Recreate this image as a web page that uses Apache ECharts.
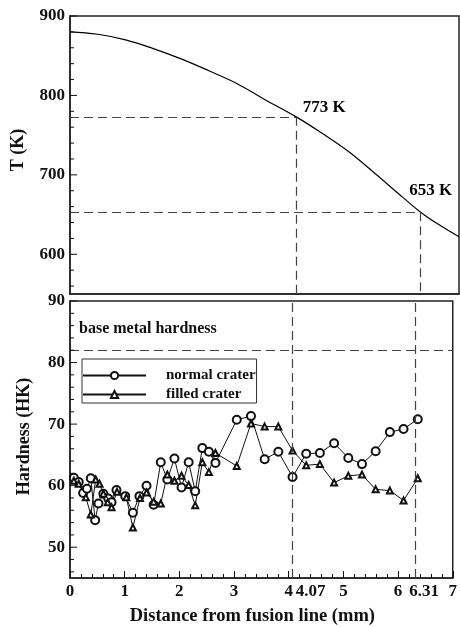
<!DOCTYPE html>
<html>
<head>
<meta charset="utf-8">
<script src="https://cdn.jsdelivr.net/npm/echarts@6/dist/echarts.min.js"></script>
<style>
  html, body { margin: 0; padding: 0; background: #fff; }
  #chart { width: 460px; height: 627px; }
</style>
</head>
<body>
<div id="chart"></div>
<script>
// Peak temperature along the distance from the fusion line (mm, K)
const tempX = [0, 0.5, 1.0, 1.5, 2.0, 2.5, 3.0, 3.5, 4.07, 4.5, 5.0, 5.5, 6.0, 6.31, 6.6, 7.0];
const tempK = [880, 877, 870, 859, 846, 831, 815, 795, 773, 754, 730, 701, 671, 653, 639, 622];

// Critical temperatures and where they are reached
const markX = [4.07, 6.31];
const markK = [773, 653];

// Knoop hardness traverses
const normalX = [0.07, 0.16, 0.24, 0.31, 0.38, 0.46, 0.52, 0.61, 0.70, 0.76, 0.85, 1.01, 1.15, 1.27, 1.40, 1.53, 1.66, 1.78, 1.91, 2.04, 2.17, 2.29, 2.42, 2.54, 2.66, 3.05, 3.31, 3.56, 3.81, 4.07, 4.32, 4.57, 4.83, 5.09, 5.34, 5.59, 5.85, 6.10, 6.36];
const normalHK = [61.3, 60.6, 58.8, 59.5, 61.2, 54.4, 57.1, 58.7, 57.9, 57.3, 59.3, 58.3, 55.6, 58.3, 60.0, 56.9, 63.8, 61.0, 64.4, 59.7, 63.8, 59.1, 66.1, 65.5, 63.7, 70.7, 71.3, 64.3, 65.5, 61.4, 65.2, 65.3, 66.9, 64.5, 63.5, 65.6, 68.7, 69.2, 70.8];
const filledX = [0.07, 0.16, 0.29, 0.38, 0.47, 0.54, 0.61, 0.69, 0.76, 0.86, 1.03, 1.15, 1.28, 1.40, 1.53, 1.66, 1.78, 1.91, 2.04, 2.17, 2.29, 2.42, 2.54, 2.66, 3.05, 3.31, 3.56, 3.81, 4.07, 4.32, 4.57, 4.83, 5.09, 5.34, 5.59, 5.85, 6.10, 6.36];
const filledHK = [60.8, 60.3, 58.1, 55.3, 61.0, 60.3, 58.7, 57.3, 56.5, 59.0, 58.1, 53.2, 58.0, 58.9, 57.4, 57.1, 61.8, 60.8, 61.6, 60.1, 56.8, 63.8, 62.2, 65.3, 63.2, 70.1, 69.6, 69.6, 65.7, 63.3, 63.5, 60.5, 61.6, 61.8, 59.4, 59.2, 57.6, 61.2];
const baseHardness = 82;

// Axis ranges and ticks
const xMin = 0, xMax = 7;
const tMin = 550, tMax = 900;
const hMin = 45, hMax = 90;
const tTicks = [600, 700, 800, 900];
const tMinor = [560, 580, 620, 640, 660, 680, 720, 740, 760, 780, 820, 840, 860, 880];
const hTicks = [50, 60, 70, 80, 90];
const hMinor = [46, 48, 52, 54, 56, 58, 62, 64, 66, 68, 72, 74, 76, 78, 82, 84, 86, 88];
const xTicks = [0, 1, 2, 3, 4, 5, 6, 7];
const xLabels = [0, 1, 2, 3, 4, 4.07, 5, 6, 6.31, 7];

const FONT = '"Liberation Serif", "Times New Roman", serif';
const INK = '#111';
const DASH = { type: [9, 5], color: '#444', width: 1.2 };
const MAJOR_LEN = 7, MINOR_LEN = 4;

const pairs = (xs, ys) => xs.map((x, i) => [x, ys[i]]);

const tickLabel = {
  fontFamily: FONT, fontWeight: 'bold', fontSize: 17, color: INK, margin: 5
};
const axisName = { fontFamily: FONT, fontWeight: 'bold', fontSize: 18, color: INK };
const frameLine = { show: true, lineStyle: { color: '#222', width: 1.5 } };

// Inward ticks on the left frame, placed through the y scale
function leftTicks(xIdx, yIdx, major, minor) {
  return {
    type: 'custom', xAxisIndex: xIdx, yAxisIndex: yIdx, silent: true, clip: false, z: 5,
    data: major.map(v => [v, 1]).concat(minor.map(v => [v, 0])),
    renderItem: (params, api) => {
      const p = api.coord([xMin, api.value(0)]);
      const len = api.value(1) ? MAJOR_LEN : MINOR_LEN;
      return {
        type: 'line',
        shape: { x1: p[0], y1: p[1], x2: p[0] + len, y2: p[1] },
        style: { stroke: INK, lineWidth: 1 }
      };
    }
  };
}

const chart = echarts.init(document.getElementById('chart'), null, { renderer: 'canvas' });

chart.setOption({
  animation: false,
  backgroundColor: '#fff',
  grid: [
    { left: 70, top: 16, width: 389, height: 278, show: true, borderColor: '#222', borderWidth: 1.5, backgroundColor: 'transparent' },
    { left: 70, top: 301, width: 389, height: 278, show: true, borderColor: '#222', borderWidth: 1.5, backgroundColor: 'transparent' }
  ],
  xAxis: [
    {
      type: 'value', gridIndex: 0, min: xMin, max: xMax, interval: 1,
      axisLine: frameLine, axisTick: { show: false }, axisLabel: { show: false }, splitLine: { show: false }
    },
    {
      type: 'value', gridIndex: 1, min: xMin, max: xMax, interval: 1,
      axisLine: frameLine,
      axisTick: { show: true, inside: true, length: MAJOR_LEN, customValues: xTicks, lineStyle: { color: INK, width: 1 } },
      minorTick: { show: true, splitNumber: 5, length: MINOR_LEN, lineStyle: { color: INK, width: 1 } },
      axisLabel: Object.assign({}, tickLabel, {
        customValues: xLabels,
        formatter: v => (v === markX[0] ? '{a|' + v.toFixed(2) + '}' : v === markX[1] ? '{b|' + v.toFixed(2) + '}' : String(v)),
        rich: {
          a: { fontFamily: FONT, fontWeight: 'bold', fontSize: 17, color: INK, padding: [0, 0, 0, 36] },
          b: { fontFamily: FONT, fontWeight: 'bold', fontSize: 17, color: INK, padding: [0, 0, 0, 18] }
        }
      }),
      splitLine: { show: false },
      name: 'Distance from fusion line (mm)', nameLocation: 'middle', nameGap: 29,
      nameTextStyle: Object.assign({}, axisName, { fontSize: 18.5, padding: [0, 18, 0, 0] })
    }
  ],
  yAxis: [
    {
      type: 'value', gridIndex: 0, min: tMin, max: tMax,
      axisLine: frameLine, axisTick: { show: false },
      axisLabel: Object.assign({}, tickLabel, { customValues: tTicks }),
      splitLine: { show: false },
      name: 'T (K)', nameLocation: 'middle', nameGap: 43,
      nameTextStyle: Object.assign({}, axisName, { padding: [0, 0, 0, 10] })
    },
    {
      type: 'value', gridIndex: 1, min: hMin, max: hMax,
      axisLine: frameLine, axisTick: { show: false },
      axisLabel: Object.assign({}, tickLabel, { customValues: hTicks }),
      splitLine: { show: false },
      name: 'Hardness (HK)', nameLocation: 'middle', nameGap: 37,
      nameTextStyle: Object.assign({}, axisName, { padding: [0, 0, 0, 6] })
    }
  ],
  legend: {
    data: ['normal crater', 'filled crater'],
    orient: 'vertical', left: 82, top: 359,
    itemWidth: 63, itemHeight: 9, itemGap: 4,
    padding: [9, 1, 1, 0],
    borderColor: '#333', borderWidth: 1, backgroundColor: '#fff',
    textStyle: { fontFamily: FONT, fontWeight: 'bold', fontSize: 15, color: INK, padding: [0, 0, 0, 15] }
  },
  series: [
    leftTicks(0, 0, tTicks, tMinor),
    leftTicks(1, 1, hTicks, hMinor),
    {
      name: 'temperature', type: 'line', xAxisIndex: 0, yAxisIndex: 0,
      data: pairs(tempX, tempK), smooth: 0.4, showSymbol: false, symbol: 'none',
      lineStyle: { color: '#000', width: 1.2 },
      markLine: {
        silent: true, symbol: 'none', label: { show: false }, lineStyle: DASH,
        data: [
          [{ coord: [xMin, markK[0]] }, { coord: [markX[0], markK[0]] }],
          [{ coord: [markX[0], markK[0]] }, { coord: [markX[0], tMin] }],
          [{ coord: [xMin, markK[1]] }, { coord: [markX[1], markK[1]] }],
          [{ coord: [markX[1], markK[1]] }, { coord: [markX[1], tMin] }]
        ]
      }
    },
    {
      name: 'critical', type: 'scatter', xAxisIndex: 0, yAxisIndex: 0,
      symbolSize: 0, silent: true,
      itemStyle: { color: INK, opacity: 1 },
      data: [
        { value: [markX[0], markK[0]], label: { offset: [28, -9] } },
        { value: [markX[1], markK[1]], label: { offset: [10, -22] } }
      ],
      label: {
        show: true, position: 'inside',
        formatter: p => p.value[1] + ' K',
        fontFamily: FONT, fontWeight: 'bold', fontSize: 17, color: '#000', opacity: 1
      }
    },
    {
      name: 'normal crater', type: 'line', xAxisIndex: 1, yAxisIndex: 1,
      data: pairs(normalX, normalHK),
      symbol: 'emptyCircle', symbolSize: 8, showAllSymbol: true,
      lineStyle: { color: INK, width: 1 },
      itemStyle: { color: INK, borderWidth: 1 },
      markLine: {
        silent: true, symbol: 'none', label: { show: false }, lineStyle: DASH,
        data: [
          [{ coord: [markX[0], hMin] }, { coord: [markX[0], hMax] }],
          [{ coord: [markX[1], hMin] }, { coord: [markX[1], hMax] }],
          [
            {
              coord: [xMin, baseHardness],
              label: {
                show: true, position: 'insideStartTop', distance: [9, 13],
                formatter: 'base metal hardness',
                fontFamily: FONT, fontWeight: 'bold', fontSize: 16, color: INK
              }
            },
            { coord: [xMax, baseHardness] }
          ]
        ]
      }
    },
    {
      name: 'filled crater', type: 'line', xAxisIndex: 1, yAxisIndex: 1,
      data: pairs(filledX, filledHK),
      symbol: 'emptyTriangle', symbolSize: 6, showAllSymbol: true,
      lineStyle: { color: INK, width: 1 },
      itemStyle: { color: INK, borderWidth: 1 }
    }
  ]
});
</script>
</body>
</html>
